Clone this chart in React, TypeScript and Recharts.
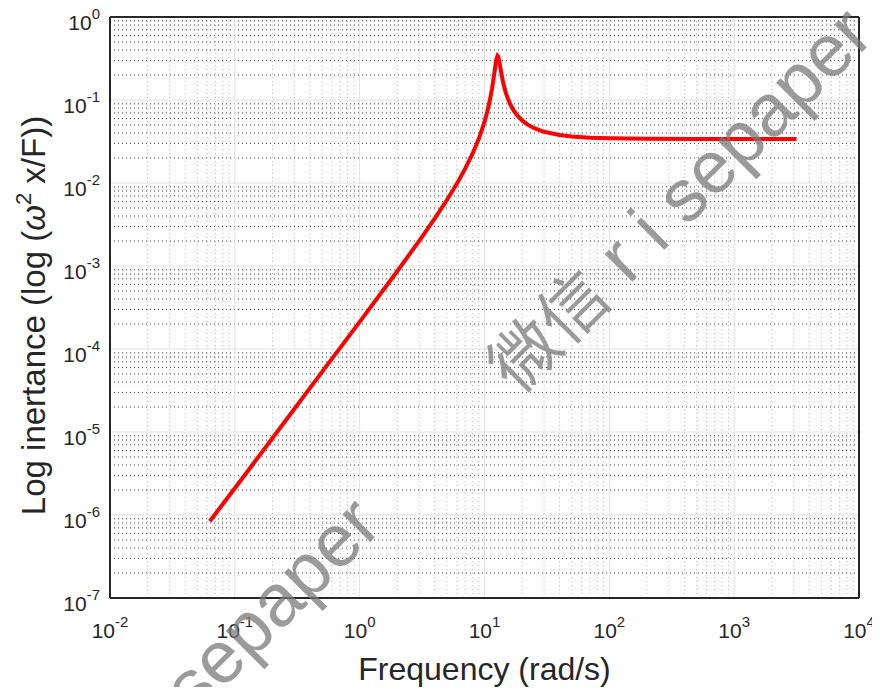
import React from 'react';
import { LineChart, Line, XAxis, YAxis, CartesianGrid, Label } from 'recharts';

// frequency (rad/s) and inertance
const freq = [
  0.063, 0.1, 0.2, 0.5, 1, 2, 3, 4, 5, 6, 7, 8, 9, 10, 10.5, 11, 11.5, 12,
  12.3, 12.5, 12.7, 12.9, 13.2, 13.5, 14, 14.5, 15, 16, 17, 18, 20, 22, 25,
  30, 40, 50, 70, 100, 200, 500, 1000, 2000, 3160,
];
const inertance = [
  8.4e-7, 2.1e-6, 8.4e-6, 5.3e-5, 2.12e-4, 8.65e-4, 2.01e-3, 3.75e-3, 6.24e-3,
  9.77e-3, 1.49e-2, 2.24e-2, 3.4e-2, 5.43e-2, 7.11e-2, 9.65e-2, 0.138, 0.212,
  0.278, 0.319, 0.34, 0.33, 0.28, 0.229, 0.171, 0.137, 0.115, 0.09, 0.076,
  0.067, 0.0567, 0.0508, 0.0457, 0.0414, 0.0378, 0.0364, 0.0352, 0.0346,
  0.0342, 0.034, 0.034, 0.034, 0.034,
];

const xDecades = [0.01, 0.1, 1, 10, 100, 1000, 10000];
const yDecades = [1e-7, 1e-6, 1e-5, 1e-4, 1e-3, 1e-2, 1e-1, 1];
const minorSteps = [2, 3, 4, 5, 6, 7, 8, 9];

const xTitle = 'Frequency (rad/s)';
const wmCjk = '微信';
const wmLatin = ' r i sepaper';

const font = '"Liberation Sans", Arial, Helvetica, sans-serif';
const ink = '#262626';

const minorOf = (decades: number[]) =>
  decades.slice(0, -1).flatMap((d) => minorSteps.map((m) => +(d * m).toPrecision(3)));

const xMinor = minorOf(xDecades);
const yMinor = minorOf(yDecades);
const xDomain = [xDecades[0], xDecades[xDecades.length - 1]];
const yDomain = [yDecades[0], yDecades[yDecades.length - 1]];

const data = freq.map((f, i) => ({ f, v: inertance[i] }));

const PowerTick = ({ x, y, payload, side }: any) => {
  const exp = Math.round(Math.log10(payload.value));
  const onX = side === 'x';
  return (
    <text
      x={onX ? x : x - 10}
      y={onX ? y + 40 : y + 13}
      textAnchor={onX ? 'middle' : 'end'}
      fontSize={21}
      fontFamily={font}
      fill={ink}
    >
      10
      <tspan dy={-11} fontSize={15}>{exp}</tspan>
    </text>
  );
};

const boxLine = { stroke: ink, strokeWidth: 2 };
const tickLn = { stroke: ink, strokeWidth: 1.5 };
const thin = 0.001; // mirrored axes take no room but must have a size to draw

const App = () => {
  return (
    <div style={{ position: 'relative', width: 880, height: 695, margin: -8, background: '#fff' }}>
      <LineChart
        width={880}
        height={695}
        data={data}
        margin={{ top: 17, right: 21, bottom: 0, left: 0 }}
      >
        <CartesianGrid
          horizontal={false}
          verticalValues={xMinor}
          stroke="#b5b5b5"
          strokeDasharray="1 3"
        />
        <CartesianGrid
          vertical={false}
          horizontalValues={yMinor}
          stroke="#3a3a3a"
          strokeDasharray="1 3"
        />
        <CartesianGrid
          verticalValues={xDecades}
          horizontalValues={yDecades}
          stroke="#e2e2e2"
        />

        <XAxis
          dataKey="f"
          type="number"
          scale="log"
          domain={xDomain}
          allowDataOverflow
          ticks={xDecades}
          interval={0}
          height={97}
          tickSize={0}
          tickMargin={0}
          tickLine={false}
          axisLine={false}
          tick={<PowerTick side="x" />}
        >
          <Label
            content={({ viewBox }: any) => (
              <text
                x={viewBox.x + viewBox.width / 2}
                y={viewBox.y + 82}
                textAnchor="middle"
                fontSize={32}
                fontFamily={font}
                fill={ink}
              >
                {xTitle}
              </text>
            )}
          />
        </XAxis>
        <YAxis
          type="number"
          scale="log"
          domain={yDomain}
          allowDataOverflow
          ticks={yDecades}
          interval={0}
          width={110}
          tickSize={0}
          tickMargin={0}
          tickLine={false}
          axisLine={false}
          tick={<PowerTick side="y" />}
        >
          <Label
            content={({ viewBox }: any) => {
              const cx = viewBox.x + 45;
              const cy = viewBox.y + viewBox.height / 2 + 8;
              return (
                <text
                  x={cx}
                  y={cy}
                  transform={`rotate(-90, ${cx}, ${cy})`}
                  textAnchor="middle"
                  fontSize={33}
                  fontFamily={font}
                  fill={ink}
                >
                  Log inertance (log (
                  <tspan fontStyle="italic">ω</tspan>
                  <tspan dy={-14} fontSize={22}>2</tspan>
                  <tspan dy={14}> x/F))</tspan>
                </text>
              );
            }}
          />
        </YAxis>

        {/* inward tick marks and the box, MATLAB style */}
        <XAxis xAxisId="bM" orientation="bottom" mirror height={thin} type="number" scale="log"
          domain={xDomain} allowDataOverflow ticks={xDecades} interval={0} tick={false}
          tickSize={8} tickLine={tickLn} axisLine={boxLine} />
        <XAxis xAxisId="bm" orientation="bottom" mirror height={thin} type="number" scale="log"
          domain={xDomain} allowDataOverflow ticks={xMinor} interval={0} tick={false}
          tickSize={5} tickLine={tickLn} axisLine={false} />
        <XAxis xAxisId="tM" orientation="top" mirror height={thin} type="number" scale="log"
          domain={xDomain} allowDataOverflow ticks={xDecades} interval={0} tick={false}
          tickSize={8} tickLine={tickLn} axisLine={boxLine} />
        <XAxis xAxisId="tm" orientation="top" mirror height={thin} type="number" scale="log"
          domain={xDomain} allowDataOverflow ticks={xMinor} interval={0} tick={false}
          tickSize={5} tickLine={tickLn} axisLine={false} />
        <YAxis yAxisId="lM" orientation="left" mirror width={thin} type="number" scale="log"
          domain={yDomain} allowDataOverflow ticks={yDecades} interval={0} tick={false}
          tickSize={8} tickLine={tickLn} axisLine={boxLine} />
        <YAxis yAxisId="lm" orientation="left" mirror width={thin} type="number" scale="log"
          domain={yDomain} allowDataOverflow ticks={yMinor} interval={0} tick={false}
          tickSize={5} tickLine={tickLn} axisLine={false} />
        <YAxis yAxisId="rM" orientation="right" mirror width={thin} type="number" scale="log"
          domain={yDomain} allowDataOverflow ticks={yDecades} interval={0} tick={false}
          tickSize={8} tickLine={tickLn} axisLine={boxLine} />
        <YAxis yAxisId="rm" orientation="right" mirror width={thin} type="number" scale="log"
          domain={yDomain} allowDataOverflow ticks={yMinor} interval={0} tick={false}
          tickSize={5} tickLine={tickLn} axisLine={false} />

        <Line
          dataKey="v"
          type="linear"
          stroke="#ff0000"
          strokeWidth={4}
          dot={false}
          isAnimationActive={false}
        />
      </LineChart>

      <svg
        width={880}
        height={695}
        style={{ position: 'absolute', left: 0, top: 0, pointerEvents: 'none' }}
      >
        {[[518, 396], [26, 886]].map(([wx, wy], i) => (
          <text
            key={i}
            x={wx}
            y={wy}
            transform={`rotate(-45, ${wx}, ${wy})`}
            fontSize={74}
            fontFamily={'"Liberation Sans", "Noto Sans CJK SC", sans-serif'}
            fill="#7a7a7a"
            fillOpacity={0.75}
          >
            <tspan fontSize={68} fontFamily={'"Noto Sans CJK SC", sans-serif'}>{wmCjk}</tspan>
            {wmLatin}
          </text>
        ))}
      </svg>
    </div>
  );
};

export default App;
